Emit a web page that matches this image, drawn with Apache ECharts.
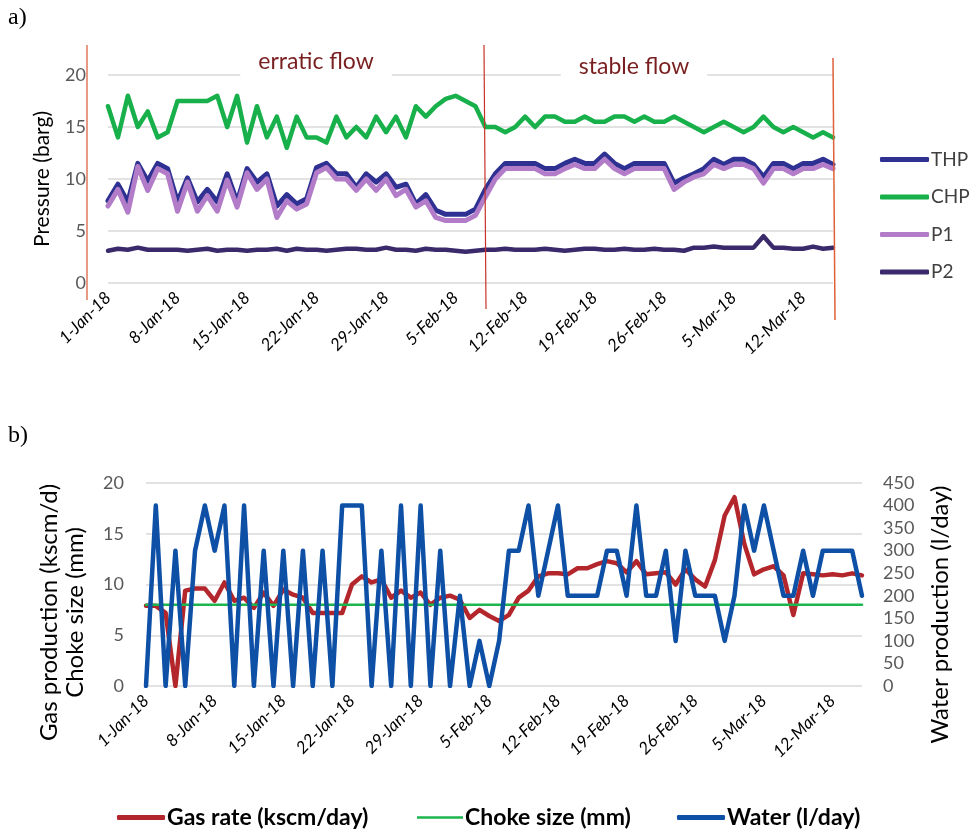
<!DOCTYPE html>
<html>
<head>
<meta charset="utf-8">
<script src="https://cdn.jsdelivr.net/npm/echarts@6/dist/echarts.min.js"></script>
<style>
html,body{margin:0;padding:0;background:#fff;}
#c{width:976px;height:832px;}
</style>
</head>
<body>
<div id="c"></div>
<script>
// ---------- categories ----------
const dates = [
 '1-Jan-18','2-Jan-18','3-Jan-18','4-Jan-18','5-Jan-18','6-Jan-18','7-Jan-18','8-Jan-18','9-Jan-18','10-Jan-18',
 '11-Jan-18','12-Jan-18','13-Jan-18','14-Jan-18','15-Jan-18','16-Jan-18','17-Jan-18','18-Jan-18','19-Jan-18','20-Jan-18',
 '21-Jan-18','22-Jan-18','23-Jan-18','24-Jan-18','25-Jan-18','26-Jan-18','27-Jan-18','28-Jan-18','29-Jan-18','30-Jan-18',
 '31-Jan-18','1-Feb-18','2-Feb-18','3-Feb-18','4-Feb-18','5-Feb-18','6-Feb-18','7-Feb-18','8-Feb-18','9-Feb-18',
 '10-Feb-18','11-Feb-18','12-Feb-18','13-Feb-18','14-Feb-18','15-Feb-18','16-Feb-18','17-Feb-18','18-Feb-18','19-Feb-18',
 '20-Feb-18','21-Feb-18','22-Feb-18','23-Feb-18','24-Feb-18','25-Feb-18','26-Feb-18','27-Feb-18','28-Feb-18','1-Mar-18',
 '2-Mar-18','3-Mar-18','4-Mar-18','5-Mar-18','6-Mar-18','7-Mar-18','8-Mar-18','9-Mar-18','10-Mar-18','11-Mar-18',
 '12-Mar-18','13-Mar-18','14-Mar-18','15-Mar-18'
];

// ---------- panel a) pressures (barg) ----------
const THP = [7.9,9.5,7.8,11.5,9.8,11.5,11.0,7.8,10.1,7.8,9.0,7.8,10.5,7.8,11.0,9.7,10.5,7.4,8.5,7.6,
 8.1,11.1,11.5,10.5,10.5,9.2,10.5,9.7,10.5,9.2,9.5,7.6,8.5,7.0,6.6,6.6,6.6,7.1,9.0,10.5,
 11.5,11.5,11.5,11.5,11.0,11.0,11.5,11.9,11.5,11.5,12.4,11.5,11.0,11.5,11.5,11.5,11.5,9.6,10.1,10.5,
 11.0,11.9,11.4,11.9,11.9,11.4,10.2,11.5,11.5,11.0,11.5,11.5,11.9,11.4];
const CHP = [17.0,14.0,18.0,15.0,16.5,14.0,14.5,17.5,17.5,17.5,17.5,18.0,15.0,18.0,13.5,17.0,14.0,16.0,13.0,16.0,
 14.0,14.0,13.5,16.0,14.0,15.0,14.0,16.0,14.5,16.0,14.0,17.0,16.0,17.0,17.7,18.0,17.5,17.0,15.0,15.0,
 14.5,15.0,16.0,15.0,16.0,16.0,15.5,15.5,16.0,15.5,15.5,16.0,16.0,15.5,16.0,15.5,15.5,16.0,15.5,15.0,
 14.5,15.0,15.5,15.0,14.5,15.0,16.0,15.0,14.5,15.0,14.5,14.0,14.5,14.0];
const P1 = [7.4,9.0,6.8,11.2,8.9,11.0,10.5,6.9,9.7,6.9,8.4,6.9,9.9,7.3,10.6,9.0,10.0,6.3,7.9,7.1,
 7.6,10.6,11.1,10.0,10.0,8.9,10.0,8.9,10.0,8.4,9.0,7.3,7.9,6.3,6.0,6.0,6.0,6.5,8.3,10.0,
 11.0,11.0,11.0,11.0,10.5,10.5,11.0,11.4,11.0,11.0,11.9,11.0,10.5,11.0,11.0,11.0,11.0,9.0,9.7,10.2,
 10.5,11.4,11.0,11.4,11.4,11.0,9.6,11.0,11.0,10.5,11.0,11.0,11.4,11.0];
const P2 = [3.1,3.3,3.2,3.4,3.2,3.2,3.2,3.2,3.1,3.2,3.3,3.1,3.2,3.2,3.1,3.2,3.2,3.3,3.1,3.3,
 3.2,3.2,3.1,3.2,3.3,3.3,3.2,3.2,3.4,3.2,3.2,3.1,3.3,3.2,3.2,3.1,3.0,3.1,3.2,3.2,
 3.3,3.2,3.2,3.2,3.3,3.2,3.1,3.2,3.3,3.3,3.2,3.2,3.3,3.2,3.2,3.3,3.2,3.2,3.1,3.4,
 3.4,3.5,3.4,3.4,3.4,3.4,4.5,3.4,3.4,3.3,3.3,3.5,3.3,3.4];

// ---------- panel b) production ----------
const gasRate = [7.9,7.9,7.2,0,9.4,9.6,9.6,8.4,10.2,8.4,8.7,7.7,9.2,7.9,9.5,9.0,8.7,7.2,7.2,7.2,
 7.2,10.0,10.8,10.2,10.5,8.7,9.4,8.7,9.2,8.0,8.7,8.9,8.5,6.7,7.5,6.9,6.4,7.0,8.7,9.4,
 10.8,11.1,11.1,11.0,11.6,11.6,12.0,12.3,12.1,11.2,12.3,11.0,11.1,11.2,10.0,11.5,10.5,9.8,12.4,16.8,
 18.6,14.0,11.0,11.5,11.8,10.9,7.0,11.1,11.0,10.9,11.0,10.9,11.1,10.9];
const chokeSize = [8,8,8,8,8,8,8,8,8,8,8,8,8,8,8,8,8,8,8,8,
 8,8,8,8,8,8,8,8,8,8,8,8,8,8,8,8,8,8,8,8,
 8,8,8,8,8,8,8,8,8,8,8,8,8,8,8,8,8,8,8,8,
 8,8,8,8,8,8,8,8,8,8,8,8,8,8];
const water = [0,400,0,300,0,300,400,300,400,0,400,0,300,0,300,0,300,0,300,0,
 400,400,400,0,300,0,400,0,400,0,300,0,200,0,100,0,100,300,300,400,
 200,300,400,200,200,200,200,300,300,200,400,200,200,300,100,300,200,200,200,100,
 200,400,300,400,300,200,200,300,200,300,300,300,300,200];

// ---------- tick settings ----------
const pressureTicks = {min: 0, max: 20, interval: 5};
const leftTicksB = {min: 0, max: 20, interval: 5};
const rightTicksB = {min: 0, max: 450, interval: 50};

const FONT = 'Lato';
const chart = echarts.init(document.getElementById('c'));

const xAxisCommon = {
  type: 'category', data: dates, boundaryGap: false,
  axisLine: {show: false}, axisTick: {show: false},
  axisLabel: {interval: 6, rotate: 45, margin: 12, color: '#000', fontSize: 17, fontFamily: FONT, fontStyle: 'italic'},
  splitLine: {show: false}
};

function ln(name, data, color, width, xi, yi) {
  return {name, type: 'line', data, xAxisIndex: xi, yAxisIndex: yi, symbol: 'none',
    lineStyle: {color, width, join: 'round', cap: 'round'}, itemStyle: {color}, animation: false};
}

const bottomLegendText = {fontSize: 23, color: '#000', fontWeight: 'bold', fontFamily: FONT, padding: [0, 0, 0, -3]};

chart.setOption({
  animation: false,
  backgroundColor: '#fff',
  grid: [
    {left: 108, top: 75, width: 725, height: 208},
    {left: 146, top: 483, width: 716, height: 203}
  ],
  xAxis: [
    Object.assign({gridIndex: 0}, xAxisCommon),
    Object.assign({gridIndex: 1}, xAxisCommon)
  ],
  yAxis: [
    {gridIndex: 0, type: 'value', min: pressureTicks.min, max: pressureTicks.max, interval: pressureTicks.interval,
     name: 'Pressure (barg)', nameLocation: 'middle', nameGap: 55, nameRotate: 90,
     nameTextStyle: {fontSize: 21, color: '#000', fontFamily: FONT},
     axisLine: {show: false}, axisTick: {show: false},
     axisLabel: {color: '#595959', fontSize: 18, margin: 22, fontFamily: FONT},
     splitLine: {lineStyle: {color: '#d9d9d9', width: 1.5}}},
    {gridIndex: 1, type: 'value', min: leftTicksB.min, max: leftTicksB.max, interval: leftTicksB.interval,
     name: 'Gas production (kscm/d)\nChoke size (mm)', nameLocation: 'middle', nameGap: 58, nameRotate: 90,
     nameTextStyle: {fontSize: 24, color: '#000', fontFamily: FONT, lineHeight: 26, padding: [0, 56, 0, 0]},
     axisLine: {show: false}, axisTick: {show: false},
     axisLabel: {color: '#595959', fontSize: 18, margin: 22, fontFamily: FONT},
     splitLine: {lineStyle: {color: '#d9d9d9', width: 1.5}}},
    {gridIndex: 1, type: 'value', position: 'right', min: rightTicksB.min, max: rightTicksB.max, interval: rightTicksB.interval,
     name: 'Water production (l/day)', nameLocation: 'middle', nameGap: 66, nameRotate: 90,
     nameTextStyle: {fontSize: 24, color: '#000', fontFamily: FONT, padding: [0, 60, 0, 0]},
     axisLine: {show: false}, axisTick: {show: false},
     axisLabel: {color: '#595959', fontSize: 18, margin: 21, fontFamily: FONT},
     splitLine: {show: false}}
  ],
  legend: [
    {orient: 'vertical', left: 880, top: 150, padding: 0, itemWidth: 49, itemHeight: 5, itemGap: 18.5, icon: 'roundRect',
     data: ['THP', 'CHP', 'P1', 'P2'],
     textStyle: {fontSize: 19, color: '#404040', fontFamily: FONT, padding: [0, 0, 0, -3]}},
    {left: 117, top: 806, padding: 0, itemWidth: 48, itemHeight: 5, icon: 'roundRect',
     data: ['Gas rate (kscm/day)'], textStyle: bottomLegendText},
    {left: 417, top: 806, padding: 0, itemWidth: 46, itemHeight: 2.5, icon: 'rect',
     data: ['Choke size (mm)'], textStyle: bottomLegendText},
    {left: 677, top: 806, padding: 0, itemWidth: 48, itemHeight: 5, icon: 'roundRect',
     data: ['Water (l/day)'], textStyle: bottomLegendText}
  ],
  series: [
    ln('THP', THP, '#2e3192', 5, 0, 0),
    ln('CHP', CHP, '#17b04b', 4.5, 0, 0),
    ln('P1', P1, '#b27cc8', 5, 0, 0),
    ln('P2', P2, '#3a2a6c', 4.5, 0, 0),
    ln('Gas rate (kscm/day)', gasRate, '#b3262b', 4.5, 1, 1),
    ln('Choke size (mm)', chokeSize, '#1db54e', 2.5, 1, 1),
    ln('Water (l/day)', water, '#0d50a6', 4.5, 1, 2)
  ],
  graphic: [
    {type: 'text', left: 8, top: 6, z: 100, style: {text: 'a)', font: '24px "Liberation Serif"', fill: '#000'}},
    {type: 'text', left: 8, top: 424, z: 100, style: {text: 'b)', font: '24px "Liberation Serif"', fill: '#000'}},
    {type: 'line', z: 90, shape: {x1: 87, y1: 45, x2: 87, y2: 300}, style: {stroke: '#e07a5a', lineWidth: 1.5}},
    {type: 'line', z: 90, shape: {x1: 484, y1: 45, x2: 486, y2: 309}, style: {stroke: '#c8322a', lineWidth: 1.2}},
    {type: 'line', z: 90, shape: {x1: 833, y1: 58, x2: 835, y2: 320}, style: {stroke: '#e0603a', lineWidth: 1.5}},
    {type: 'text', z: 100, x: 316, y: 62, style: {text: 'erratic flow', font: '23px Lato', fill: '#7a1f1f',
      align: 'center', verticalAlign: 'middle', backgroundColor: '#fff', padding: [4, 18]}},
    {type: 'text', z: 100, x: 634, y: 67, style: {text: 'stable flow', font: '23px Lato', fill: '#7a1f1f',
      align: 'center', verticalAlign: 'middle', backgroundColor: '#fff', padding: [4, 18]}}
  ]
});
</script>
</body>
</html>
